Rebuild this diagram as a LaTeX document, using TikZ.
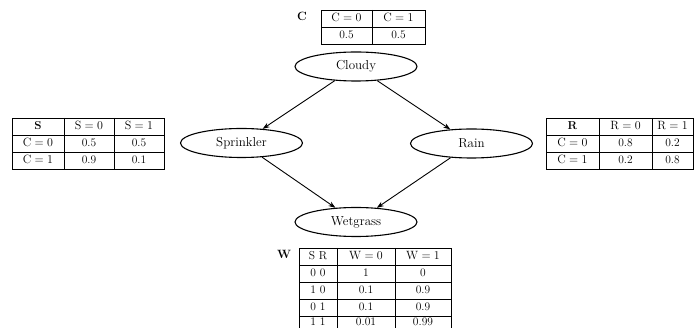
\documentclass[tikz,border=0pt]{standalone}
\usetikzlibrary{shapes.geometric,arrows.meta}
\begin{document}
\begin{tikzpicture}[x=1pt,y=-1pt,
  var/.style={draw,ellipse,line width=1.1pt,minimum width=122pt,minimum height=29pt,inner sep=0pt,font=\fontsize{13}{15}\selectfont},
  edge/.style={-{Stealth[length=7pt,width=5pt]},line width=0.9pt},
  tgrid/.style={line width=0.75pt},
  cell/.style={inner sep=0pt,text height=8pt,text depth=2pt,font=\fontsize{11.5}{13}\selectfont},
  tlabel/.style={inner sep=0pt,text height=8pt,text depth=2pt,font=\fontsize{12}{14}\selectfont\bfseries}]
\useasboundingbox (0,0) rectangle (696,328);
\clip (0,0) rectangle (696,328);

% Graph nodes
\node[var] (cloudy) at (356,66.5) {Cloudy};
\node[var] (sprinkler) at (241.5,143) {Sprinkler};
\node[var] (rain) at (471.5,143.5) {Rain};
\node[var] (wetgrass) at (356,222) {Wetgrass};

\draw[edge] (cloudy) -- (sprinkler);
\draw[edge] (cloudy) -- (rain);
\draw[edge] (sprinkler) -- (wetgrass);
\draw[edge] (rain) -- (wetgrass);

% C table
\node[tlabel] (clab) at (302,18) {C};
\draw[tgrid] (321,10) rectangle (425,44);
\draw[tgrid] (372,10) -- (372,44);
\draw[tgrid] (321,27) -- (425,27);
\node[cell] (c11) at (346.5,18.5) {$\mathrm{C}=0$};
\node[cell] (c12) at (398.5,18.5) {$\mathrm{C}=1$};
\node[cell] (c21) at (346.5,35.5) {0.5};
\node[cell] (c22) at (398.5,35.5) {0.5};

% S table
\draw[tgrid] (12,118) rectangle (164,169);
\draw[tgrid] (64,118) -- (64,169);
\draw[tgrid] (114,118) -- (114,169);
\draw[tgrid] (12,135) -- (164,135);
\draw[tgrid] (12,152) -- (164,152);
\node[cell] (s11) at (38,126.5) {\textbf{S}};
\node[cell] (s12) at (89,126.5) {$\mathrm{S}=0$};
\node[cell] (s13) at (139,126.5) {$\mathrm{S}=1$};
\node[cell] (s21) at (38,143.5) {$\mathrm{C}=0$};
\node[cell] (s22) at (89,143.5) {0.5};
\node[cell] (s23) at (139,143.5) {0.5};
\node[cell] (s31) at (38,160.5) {$\mathrm{C}=1$};
\node[cell] (s32) at (89,160.5) {0.9};
\node[cell] (s33) at (139,160.5) {0.1};

% R table
\draw[tgrid] (546,118) rectangle (693,169);
\draw[tgrid] (599,118) -- (599,169);
\draw[tgrid] (652,118) -- (652,169);
\draw[tgrid] (546,135) -- (693,135);
\draw[tgrid] (546,152) -- (693,152);
\node[cell] (r11) at (572.5,126.5) {\textbf{R}};
\node[cell] (r12) at (625.5,126.5) {$\mathrm{R}=0$};
\node[cell] (r13) at (672.5,126.5) {$\mathrm{R}=1$};
\node[cell] (r21) at (572.5,143.5) {$\mathrm{C}=0$};
\node[cell] (r22) at (625.5,143.5) {0.8};
\node[cell] (r23) at (672.5,143.5) {0.2};
\node[cell] (r31) at (572.5,160.5) {$\mathrm{C}=1$};
\node[cell] (r32) at (625.5,160.5) {0.2};
\node[cell] (r33) at (672.5,160.5) {0.8};

% W table
\node[tlabel] (wlab) at (284,256) {W};
\draw[tgrid] (299,248) rectangle (451,334);
\draw[tgrid] (337,248) -- (337,334);
\draw[tgrid] (395,248) -- (395,334);
\draw[tgrid] (299,265) -- (451,265);
\draw[tgrid] (299,282) -- (451,282);
\draw[tgrid] (299,299) -- (451,299);
\draw[tgrid] (299,316) -- (451,316);
\node[cell] (w11) at (318,256.5) {S R};
\node[cell] (w12) at (366,256.5) {$\mathrm{W}=0$};
\node[cell] (w13) at (423,256.5) {$\mathrm{W}=1$};
\node[cell] (w21) at (318,273.5) {0 0};
\node[cell] (w22) at (366,273.5) {1};
\node[cell] (w23) at (423,273.5) {0};
\node[cell] (w31) at (318,290.5) {1 0};
\node[cell] (w32) at (366,290.5) {0.1};
\node[cell] (w33) at (423,290.5) {0.9};
\node[cell] (w41) at (318,307.5) {0 1};
\node[cell] (w42) at (366,307.5) {0.1};
\node[cell] (w43) at (423,307.5) {0.9};
\node[cell] (w51) at (318,322.5) {1 1};
\node[cell] (w52) at (366,322.5) {0.01};
\node[cell] (w53) at (423,322.5) {0.99};
\end{tikzpicture}
\end{document}
